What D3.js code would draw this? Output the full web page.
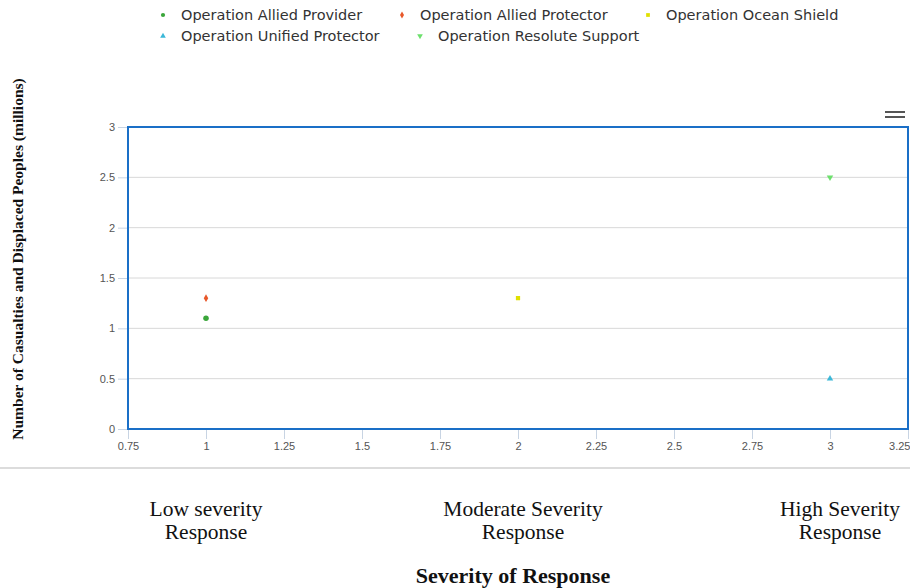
<!DOCTYPE html>
<html><head><meta charset="utf-8">
<script src="https://cdn.jsdelivr.net/npm/d3@7"></script>
<style>body{margin:0;background:#fff}svg{display:block}</style>
</head><body><svg id="c" width="910" height="588"></svg>
<script>
const seriesNames = ["Operation Allied Provider","Operation Allied Protector","Operation Ocean Shield","Operation Unified Protector","Operation Resolute Support"];
const seriesX = [1, 1, 2, 3, 3];
const seriesY = [1.1, 1.3, 1.3, 0.5, 2.5];
const seriesColors = ["#3aa63a","#e8582a","#e0e000","#3bb8d8","#6de06d"];
const seriesSymbols = [d3.symbolCircle, d3.symbolDiamond, d3.symbolSquare, d3.symbolTriangle, d3.symbolTriangle];
const xTicks = [0.75,1,1.25,1.5,1.75,2,2.25,2.5,2.75,3,3.25];
const yTicks = [0,0.5,1,1.5,2,2.5,3];
const categoryLabels = [["Low severity","Response"],["Moderate Severity","Response"],["High Severity","Response"]];
const categoryPos = [206, 523, 840];

const svg = d3.select("#c");
const x = d3.scaleLinear().domain([0.75,3.25]).range([128,908]);
const y = d3.scaleLinear().domain([0,3]).range([429,127]);

svg.append("g").selectAll("line").data(yTicks).join("line")
  .attr("x1",x(0.75)).attr("x2",x(3.25)).attr("y1",d=>y(d)).attr("y2",d=>y(d))
  .attr("stroke","#d8d8d8").attr("stroke-width",1);

const ya = svg.append("g").attr("transform",`translate(${x(0.75)},0)`)
  .call(d3.axisLeft(y).tickValues(yTicks).tickSize(10).tickPadding(3).tickFormat(d3.format("")));
ya.select(".domain").remove();
ya.selectAll(".tick line").attr("stroke","#c8d4e3");
ya.selectAll(".tick text").attr("fill","#555").style("font-family","Liberation Sans, Arial").style("font-size","11px");

const xa = svg.append("g").attr("transform",`translate(0,${y(0)})`)
  .call(d3.axisBottom(x).tickValues(xTicks).tickSize(10).tickPadding(3).tickFormat(d3.format("")));
xa.select(".domain").remove();
xa.selectAll(".tick line").attr("stroke","#c8d4e3");
xa.selectAll(".tick text").attr("fill","#555").style("font-family","Liberation Sans, Arial").style("font-size","11px");
xa.selectAll(".tick text").filter(d=>d===3.25).attr("text-anchor","end").attr("dx","2");

svg.append("rect").attr("x",x(0.75)).attr("y",y(3)).attr("width",x(3.25)-x(0.75)).attr("height",y(0)-y(3))
  .attr("fill","none").attr("stroke","#1a6fc7").attr("stroke-width",2);

seriesNames.forEach((n,i)=>{
  const sym = d3.symbol().type(seriesSymbols[i]).size(i===0?24:18);
  svg.append("path").attr("d",sym()).attr("fill",seriesColors[i])
    .attr("transform",`translate(${x(seriesX[i])},${y(seriesY[i])})${i===4?" rotate(180)":""}`);
});

svg.append("line").attr("x1",0).attr("x2",910).attr("y1",468).attr("y2",468).attr("stroke","#d0d0d0").attr("stroke-width",1.5);

categoryLabels.forEach((lines,i)=>{
  const t = svg.append("text").attr("text-anchor","middle").attr("fill","#111")
    .style("font-family","Liberation Serif, serif").style("font-size","21.5px");
  lines.forEach((l,j)=>t.append("tspan").attr("x",categoryPos[i]).attr("y",516+j*23).text(l));
});

svg.append("text").attr("x",513).attr("y",583).attr("text-anchor","middle")
  .style("font-family","Liberation Serif, serif").style("font-size","22px").style("font-weight","bold").attr("fill","#111")
  .text("Severity of Response");

svg.append("text").attr("transform","translate(23,259) rotate(-90)").attr("text-anchor","middle")
  .style("font-family","Liberation Serif, serif").style("font-size","15.5px").style("font-weight","bold").attr("fill","#111")
  .text("Number of Casualties and Displaced Peoples (millions)");

const legendPos = [[163,15],[402,15],[648,15],[163,36],[420,36]];
seriesNames.forEach((n,i)=>{
  const [lx,ly] = legendPos[i];
  const sym = d3.symbol().type(seriesSymbols[i]).size(14);
  svg.append("path").attr("d",sym()).attr("fill",seriesColors[i])
    .attr("transform",`translate(${lx},${ly})${i===4?" rotate(180)":""}`);
  svg.append("text").attr("x",lx+18).attr("y",ly+5).attr("fill","#333")
    .style("font-family","DejaVu Sans, sans-serif").style("font-size","14.5px").text(n);
});

[112,117].forEach(yy=>svg.append("line").attr("x1",885).attr("x2",905).attr("y1",yy).attr("y2",yy).attr("stroke","#555").attr("stroke-width",2));
</script></body></html>
